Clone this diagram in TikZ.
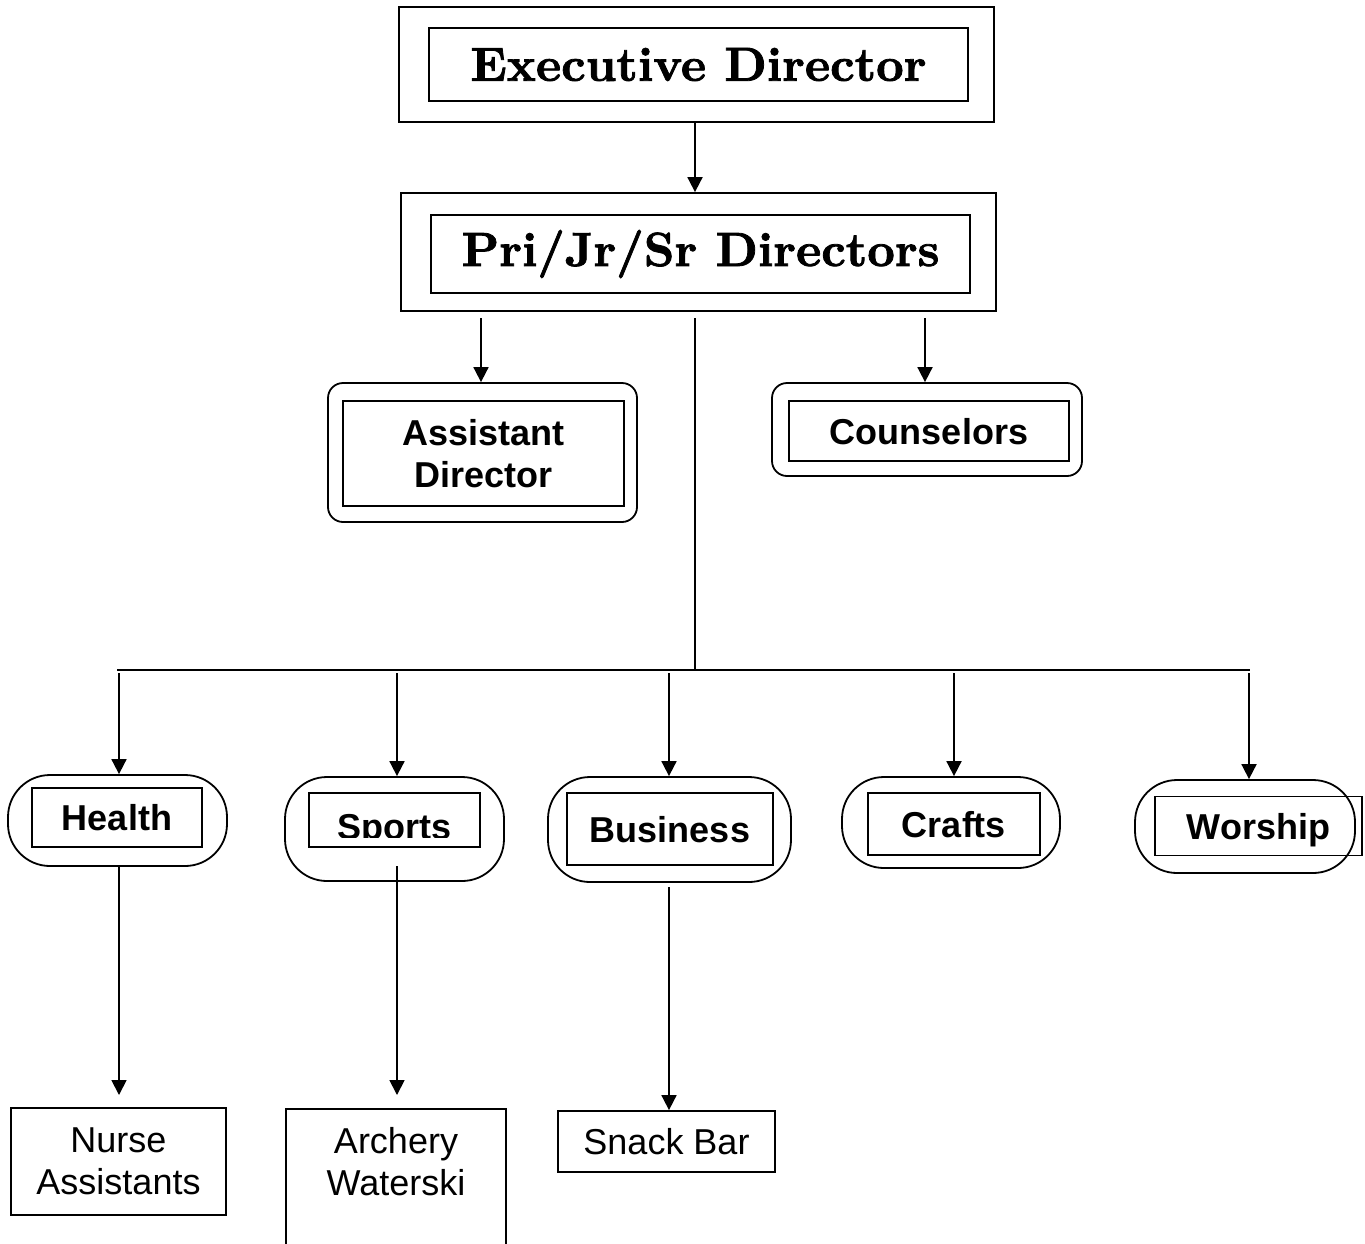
\documentclass[tikz,border=0pt]{standalone}
\usepackage{fontspec}
\setsansfont{Liberation Sans}
\newfontfamily\headfont{lmroman10-bold.otf}[FakeBold=1.6]
\usetikzlibrary{arrows.meta}

\begin{document}
\begin{tikzpicture}[x=1pt,y=-1pt,line width=1.8pt,
    frame/.style={draw,rectangle,inner sep=0pt},
    roundframe/.style={draw,rectangle,rounded corners=15pt,inner sep=0pt},
    pill/.style={draw,rectangle,rounded corners=42pt,inner sep=0pt},
    headtext/.style={font=\headfont\fontsize{48}{58}\selectfont},
    unittext/.style={font=\sffamily\bfseries\fontsize{36}{42}\selectfont,align=center},
    oneline/.style={text height=26pt,text depth=0pt},
    leaftext/.style={font=\sffamily\fontsize{36}{42}\selectfont,align=center},
    arr/.style={-{Triangle[width=15pt,length=15pt]}}]
                \clip (0,0) rectangle (1365,1243);

                % top of the chart
                \node[frame,minimum width=595pt,minimum height=115pt] (exec) at (696.5,64.5) {};
                \node[frame,headtext,minimum width=539pt,minimum height=73pt] (execIn) at (698.5,64.5) {Executive Director};
                \node[frame,minimum width=595pt,minimum height=118pt] (pri) at (698.5,252) {};
                \node[frame,headtext,minimum width=539pt,minimum height=78pt] (priIn) at (700.5,254) {Pri/Jr/Sr Directors};

                \node[roundframe,minimum width=309pt,minimum height=139pt] (asst) at (482.5,452.5) {};
                \node[frame,unittext,minimum width=281pt,minimum height=105pt] (asstIn) at (483.5,453.5) {Assistant\\Director};
                \node[roundframe,minimum width=310pt,minimum height=93pt] (couns) at (927,429.5) {};
                \node[frame,unittext,oneline,minimum width=280pt,minimum height=60pt] (counsIn) at (929,431) {Counselors};

                % units
                \node[pill,minimum width=219pt,minimum height=91pt] (health) at (117.5,820.5) {};
                \node[frame,unittext,oneline,minimum width=170pt,minimum height=59pt] (healthIn) at (117,817.5) {Health};
                \node[pill,minimum width=219pt,minimum height=104pt] (sports) at (394.5,829) {};
                \node[frame,minimum width=171pt,minimum height=54pt] (sportsIn) at (394.5,820) {};
                \begin{scope}
                    \clip (sportsIn.north west) rectangle ([yshift=10pt]sportsIn.south east);
                    \node[unittext,oneline] (sportsTxt) at (394.5,826) {Sports};
                \end{scope}
                \node[pill,minimum width=243pt,minimum height=105pt] (business) at (669.5,829.5) {};
                \node[frame,unittext,oneline,minimum width=206pt,minimum height=72pt] (businessIn) at (670,829) {Business};
                \node[pill,minimum width=218pt,minimum height=91pt] (crafts) at (951,822.5) {};
                \node[frame,unittext,oneline,minimum width=172pt,minimum height=62pt] (craftsIn) at (954,824) {Crafts};
                \node[pill,minimum width=220pt,minimum height=93pt] (worship) at (1245,826.5) {};
                \node[frame,unittext,oneline,minimum width=207pt,minimum height=59pt] (worshipIn) at (1258.5,826) {Worship};

                % bottom row
                \node[frame,leaftext,minimum width=215pt,minimum height=107pt] (nurse) at (118.5,1161.5) {Nurse\\Assistants};
                \node[frame,minimum width=220pt,minimum height=160pt,anchor=north] (archery) at (396,1108) {};
                \node[leaftext] (archeryTxt) at (396,1162) {Archery\\Waterski};
                \node[frame,leaftext,minimum width=217pt,minimum height=61pt] (snack) at (666.5,1141.5) {Snack Bar};

                % connectors
                \coordinate (hub) at (695,670);
                \coordinate (priBase) at (695,318);
                \draw[arr] (exec.south -| hub) -- (pri.north -| hub);
                \draw[arr] (priBase -| 481,0) -- (asst.north -| 481,0);
                \draw[arr] (priBase -| 925,0) -- (couns.north -| 925,0);
                \draw (priBase) -- (hub);
                \draw (117,670) -- (1250,670);
                \draw[arr] (119,673) -- (health.north -| 119,0);
                \draw[arr] (397,673) -- (sports.north -| 397,0);
                \draw[arr] (669,673) -- (business.north -| 669,0);
                \draw[arr] (954,673) -- (crafts.north -| 954,0);
                \draw[arr] (1249,673) -- (worship.north -| 1249,0);
                \draw[arr] (health.south -| 119,0) -- (119,1095);
                \draw[arr] (397,866) -- (397,1095);
                \draw[arr] (669,887) -- (snack.north -| 669,0);
\end{tikzpicture}
\end{document}
